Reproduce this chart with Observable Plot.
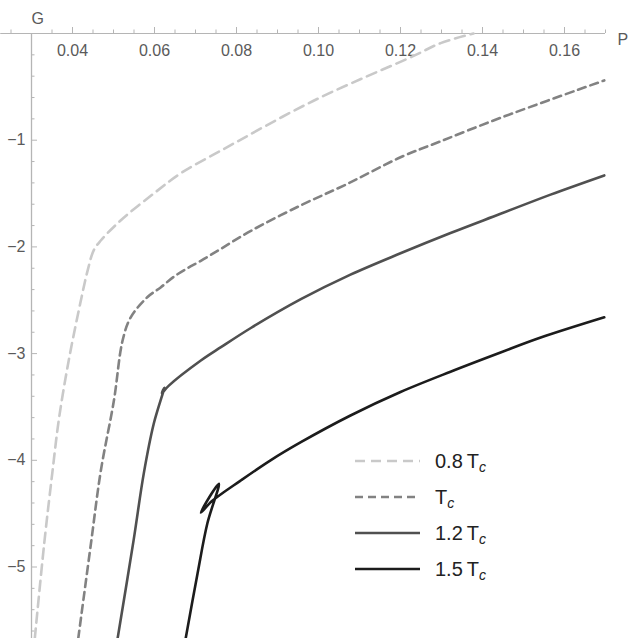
<!DOCTYPE html>
<html>
<head>
<meta charset="utf-8">
<script src="https://cdn.jsdelivr.net/npm/d3@7"></script>
<script src="https://cdn.jsdelivr.net/npm/@observablehq/plot@0.6"></script>
<style>
  html, body { margin: 0; padding: 0; background: #fff; }
  #wrap { position: relative; width: 631px; height: 638px; font-family: "Liberation Sans", Arial, sans-serif; }
  #legend { position: absolute; left: 0; top: 0; pointer-events: none; }
</style>
</head>
<body>
<div id="wrap"></div>
<script>
// ---- data ----
const seriesNames = ["0.8", "1", "1.2", "1.5"];          // T / Tc
const legendPrefix = ["0.8\u2009", "", "1.2\u2009", "1.5\u2009"];

const P_08 = [0.0308, 0.0331, 0.0351, 0.0367, 0.0391, 0.0420, 0.0437, 0.0452, 0.0469, 0.0518, 0.0598, 0.0664, 0.0761, 0.0988, 0.1232, 0.1298, 0.1378];
const G_08 = [-5.67, -4.78, -4.11, -3.61, -3.06, -2.51, -2.22, -2.03, -1.94, -1.75, -1.50, -1.31, -1.10, -0.63, -0.21, -0.09, 0.00];

const P_10 = [0.0414, 0.0445, 0.0469, 0.0501, 0.0522, 0.0542, 0.0583, 0.0615, 0.0647, 0.0680, 0.0713, 0.0761, 0.0835, 0.0957, 0.1070, 0.1200, 0.1298, 0.1444, 0.1697];
const G_10 = [-5.67, -4.78, -4.10, -3.44, -2.88, -2.66, -2.47, -2.38, -2.28, -2.20, -2.13, -2.02, -1.85, -1.61, -1.41, -1.16, -1.01, -0.79, -0.44];

const P_12 = [0.0510, 0.0549, 0.0574, 0.0598, 0.0624, 0.0618, 0.0635, 0.0713, 0.0762, 0.0835, 0.0957, 0.1078, 0.1200, 0.1322, 0.1444, 0.1566, 0.1697];
const G_12 = [-5.67, -4.75, -4.12, -3.66, -3.32, -3.37, -3.30, -3.065, -2.94, -2.76, -2.49, -2.26, -2.06, -1.87, -1.69, -1.51, -1.33];

const P_15 = [0.0676, 0.0705, 0.0729, 0.0757, 0.0713, 0.0741, 0.0810, 0.0883, 0.0957, 0.1078, 0.1200, 0.1322, 0.1444, 0.1542, 0.1697];
const G_15 = [-5.67, -5.06, -4.59, -4.22, -4.49, -4.38, -4.19, -4.00, -3.83, -3.58, -3.36, -3.17, -2.99, -2.85, -2.66];

const xMajorTicks = [0.04, 0.06, 0.08, 0.10, 0.12, 0.14, 0.16];
const xTickLabels = ["0.04", "0.06", "0.08", "0.10", "0.12", "0.14", "0.16"];
const yMajorTicks = [-1, -2, -3, -4, -5];
const yTickLabels = ["\u22121", "\u22122", "\u22123", "\u22124", "\u22125"];

const xDomain = [0.03, 0.17];
const yDomain = [-5.67, 0];
const xAxisStart = 0.0225;

// ---- styles ----
const colors = ["#c9c9c9", "#828282", "#505050", "#1c1c1c"];
const dashes = ["10,6", "8,5", null, null];
const axisColor = "#b5b5b5";
const labelColor = "#5a5a5a";

// ---- build table ----
const seriesP = [P_08, P_10, P_12, P_15];
const seriesG = [G_08, G_10, G_12, G_15];
const rows = seriesNames.flatMap((s, k) => seriesP[k].map((p, i) => ({series: s, k, P: p, G: seriesG[k][i]})));

const xMinor = d3.range(0.025, 0.1701, 0.005).filter(v => !xMajorTicks.some(t => Math.abs(t - v) < 1e-6) && Math.abs(v - 0.03) > 1e-6);
const yMinor = d3.range(-5.6, -0.1, 0.2).filter(v => !yMajorTicks.some(t => Math.abs(t - v) < 1e-6));

const font = "'Liberation Sans', Arial, sans-serif";

const chart = Plot.plot({
  width: 631,
  height: 638,
  marginLeft: 31,
  marginRight: 26,
  marginTop: 33,
  marginBottom: 0,
  style: {fontFamily: font, background: "white", overflow: "visible"},
  x: {domain: xDomain, axis: null},
  y: {domain: yDomain, axis: null},
  marks: [
    // axes lines
    Plot.ruleY([0], {x1: xAxisStart, x2: xDomain[1], stroke: axisColor, strokeWidth: 1}),
    Plot.ruleX([xDomain[0]], {y1: yDomain[0], y2: 0, stroke: axisColor, strokeWidth: 1.3}),
    // x ticks (above the axis)
    Plot.ruleX(xMajorTicks, {x: d => d, y1: 0, y2: 0, insetTop: -6, stroke: axisColor}),
    Plot.ruleX(xMinor, {x: d => d, y1: 0, y2: 0, insetTop: -3.5, stroke: axisColor}),
    // y ticks (right of axis)
    Plot.ruleY(yMajorTicks, {y: d => d, x1: xDomain[0], x2: xDomain[0], insetRight: -6, stroke: axisColor}),
    Plot.ruleY(yMinor, {y: d => d, x1: xDomain[0], x2: xDomain[0], insetRight: -3.5, stroke: axisColor}),
    // tick labels
    Plot.text(xMajorTicks, {x: d => d, y: 0, dy: 17, text: (d, i) => xTickLabels[i], fill: labelColor, fontSize: 16}),
    Plot.text(yMajorTicks, {x: xDomain[0], y: d => d, dx: -6, textAnchor: "end", text: (d, i) => yTickLabels[i], fill: labelColor, fontSize: 16}),
    // axis names
    Plot.text(["G"], {frameAnchor: "top-left", dy: -21, text: d => d, fill: labelColor, fontSize: 16}),
    Plot.text(["P"], {frameAnchor: "top-right", dx: 12, textAnchor: "start", text: d => d, fill: labelColor, fontSize: 16}),
    // curves
    ...seriesNames.map((s, k) => Plot.line(rows.filter(r => r.k === k), {
      x: "P", y: "G", stroke: colors[k], strokeWidth: 2.6, strokeDasharray: dashes[k],
      curve: "catmull-rom", strokeLinejoin: "round"
    }))
  ]
});

const wrap = document.getElementById("wrap");
wrap.appendChild(chart);

// ---- legend (overlay) ----
const legendX = 355, legendY0 = 461, legendDy = 36;
const lg = d3.select(wrap).append("svg").attr("id", "legend").attr("width", 631).attr("height", 638)
  .style("font-family", font);
seriesNames.forEach((s, k) => {
  const y = legendY0 + k * legendDy;
  lg.append("line").attr("x1", legendX).attr("x2", legendX + 65).attr("y1", y).attr("y2", y)
    .attr("stroke", colors[k]).attr("stroke-width", 2.6).attr("stroke-dasharray", dashes[k]);
  const t = lg.append("text").attr("x", legendX + 80).attr("y", y).attr("dy", "0.35em")
    .attr("font-size", 20).attr("fill", "#222");
  t.append("tspan").text(legendPrefix[k] + "T");
  t.append("tspan").attr("font-style", "italic").attr("font-size", 14).attr("dy", 4).text("c");
});
</script>
</body>
</html>
